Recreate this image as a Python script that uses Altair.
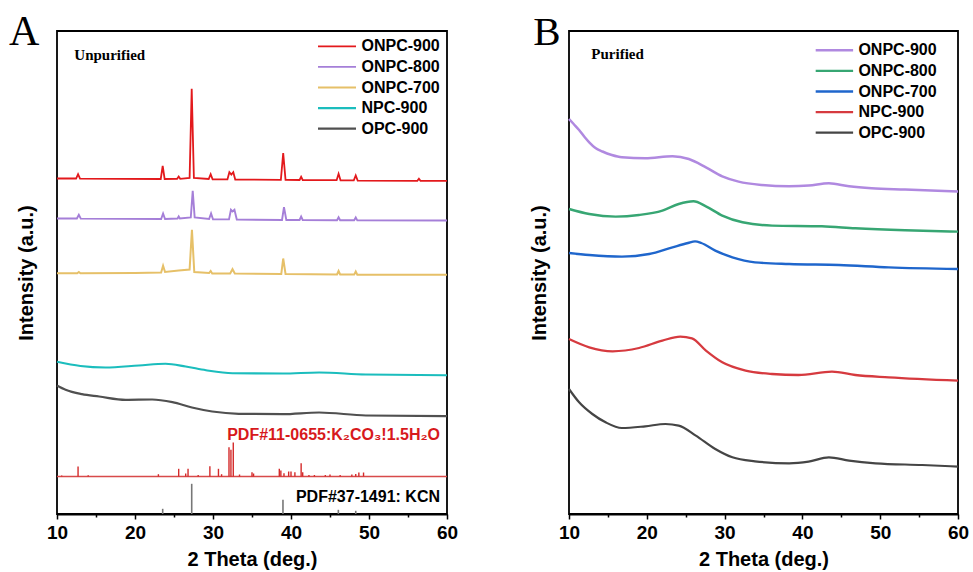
import altair as alt
import pandas as pd

# ---------------- Panel A : unpurified ----------------
A_SERIES = ["ONPC-900", "ONPC-800", "ONPC-700", "NPC-900", "OPC-900"]
A_COLORS = ["#e3191c", "#a57fd8", "#e6c068", "#1bbdbd", "#505050"]
A_WIDTHS = [1.8, 2.2, 1.8, 2.8, 2.2]

a900_theta = [10, 12.45, 12.7, 12.95, 23.3, 23.55, 23.8, 25.4, 25.6, 25.8, 27.0, 27.27, 27.55,
              29.45, 29.7, 29.95, 31.85, 32.1, 32.35, 32.6, 32.85, 38.7, 39.0, 39.3, 41.1, 41.3,
              41.5, 45.85, 46.1, 46.35, 48.05, 48.3, 48.55, 56.2, 56.4, 56.6, 60]
a900_int = [335.5, 335.5, 339.8, 335.4, 335.0, 348.2, 335.0, 335.2, 337.5, 335.2, 336.0, 425.2, 336.0,
            335.0, 339.8, 334.6, 334.6, 341.8, 339.5, 341.8, 334.5, 334.2, 360.8, 334.2, 334.0, 337.2,
            334.0, 333.8, 340.2, 333.7, 333.6, 338.5, 333.4, 333.2, 335.2, 333.2, 333.2]

a800_theta = [10, 12.55, 12.8, 13.05, 23.35, 23.6, 23.85, 25.45, 25.6, 25.75, 27.15, 27.4, 27.65,
              29.5, 29.75, 30.0, 32.05, 32.3, 32.5, 32.75, 33.05, 38.85, 39.1, 39.4, 41.1, 41.3,
              41.5, 45.9, 46.1, 46.3, 48.1, 48.3, 48.5, 60]
a800_int = [295.5, 295.5, 299.2, 295.4, 295.0, 300.5, 295.0, 295.5, 297.5, 295.5, 296.5, 323.2, 296.5,
            295.0, 300.5, 294.6, 294.6, 304.2, 302.5, 304.2, 294.5, 294.0, 306.8, 294.0, 294.0, 297.5,
            294.0, 293.8, 296.8, 293.8, 293.7, 296.5, 293.6, 293.5]

a700_theta = [10, 12.6, 12.8, 13.0, 20.0, 23.35, 23.6, 23.85, 25.6, 27.0, 27.3, 27.6, 29.5, 29.7,
              29.9, 32.2, 32.5, 32.8, 38.75, 39.0, 39.3, 45.9, 46.1, 46.3, 48.1, 48.3, 48.5, 60]
a700_int = [240.8, 240.8, 242.0, 240.8, 241.0, 241.5, 248.2, 242.0, 243.5, 244.5, 284.2, 242.0, 241.0,
            243.0, 240.5, 240.5, 244.8, 240.5, 240.0, 255.5, 240.0, 239.5, 243.0, 239.5, 239.4,
            242.5, 239.3, 239.2]

anpc_theta = [10, 13.0, 16.2, 20.5, 23.9, 26.5, 29.1, 32.5, 38.9, 43.6, 49.6, 60]
anpc_int = [152.2, 148.0, 146.5, 148.5, 150.2, 147.5, 143.8, 140.8, 140.5, 141.5, 139.5, 138.8]

aopc_theta = [10, 11.1, 13.2, 15.4, 18.8, 22.2, 24.8, 27.3, 29.9, 33.3, 38.9, 43.6, 49.6, 60]
aopc_int = [128.5, 124.2, 119.8, 117.5, 114.2, 114.5, 111.8, 106.5, 102.5, 100.2, 99.8, 101.5, 98.5, 97.8]

# reference patterns
k2co3_theta = [10.6, 12.7, 14.0, 23.0, 25.6, 26.5, 26.8, 28.1, 29.6, 30.7, 31.1, 32.05, 32.3, 32.6,
               33.4, 35.0, 35.2, 38.5, 38.7, 39.1, 39.7, 40.0, 40.5, 41.3, 41.5, 42.3, 43.0, 44.4,
               45.0, 46.3, 47.8, 48.3, 48.7, 49.3]
k2co3_top = [38.5, 47.5, 38.8, 39.8, 45.2, 40.5, 45.2, 39.0, 47.8, 45.2, 39.8, 66.8, 64.2, 71.5,
             39.5, 41.8, 40.5, 45.2, 43.5, 40.8, 42.5, 42.5, 41.8, 50.8, 41.8, 39.0, 39.0, 39.0,
             39.5, 39.0, 39.5, 40.0, 41.5, 41.5]
k2co3_base = [37.5]
kcn_theta = [23.55, 27.27, 38.97, 46.07, 48.3]
kcn_top = [5.2, 30.2, 14.2, 4.2, 3.2]
kcn_base = [0.0]

# ---------------- Panel B : purified ----------------
B_SERIES = ["ONPC-900", "ONPC-800", "ONPC-700", "NPC-900", "OPC-900"]
B_COLORS = ["#b089e0", "#37a673", "#1f66cc", "#d63a3f", "#454545"]
B_WIDTHS = [2.5, 2.2, 2.5, 2.0, 2.5]

b900_theta = [10, 10.6, 11.3, 12.0, 12.6, 13.4, 14.3, 15.5, 16.8, 19.8, 23.3, 25.4, 27.6, 29.7, 31.8,
              34.8, 38.3, 40.8, 43.4, 46.0, 48.9, 53.2, 60]
b900_int = [395.0, 390.0, 384.0, 377.0, 371.7, 366.0, 362.5, 359.0, 356.7, 355.7, 357.7, 355.0, 346.7,
            337.7, 332.4, 329.0, 327.7, 328.4, 330.7, 327.7, 325.7, 324.4, 322.4]

b800_theta = [10, 12.6, 16.0, 19.0, 22.0, 24.1, 26.0, 27.6, 29.7, 32.3, 36.1, 42.5, 46.8, 53.2, 60]
b800_int = [305.0, 300.0, 297.4, 299.0, 303.4, 310.0, 312.7, 307.7, 298.4, 291.7, 288.4, 287.7, 285.7,
            283.7, 282.4]

b700_theta = [10, 12.6, 16.8, 20.3, 23.3, 25.3, 26.2, 27.0, 28.8, 31.0, 33.9, 38.3, 44.7, 51.1, 60]
b700_int = [261.0, 259.0, 257.4, 260.0, 266.7, 271.0, 272.6, 271.0, 263.4, 256.7, 251.7, 250.0, 249.0,
            246.7, 245.0]

bnpc_theta = [10, 12.6, 15.6, 19.0, 22.0, 24.3, 25.8, 27.6, 29.7, 32.7, 36.1, 39.5, 43.8, 46.8, 51.1, 60]
bnpc_int = [175.0, 166.7, 162.7, 166.0, 173.4, 177.4, 175.7, 163.4, 151.7, 143.4, 140.0, 139.0, 142.4,
            139.0, 136.7, 133.4]

bopc_theta = [10, 11.3, 13.0, 14.7, 16.8, 19.8, 22.4, 24.1, 26.3, 28.8, 31.0, 33.9, 38.3, 40.8, 43.4,
              46.0, 49.4, 55.4, 60]
bopc_int = [125.0, 111.7, 100.0, 91.7, 86.0, 87.7, 90.0, 88.4, 78.4, 65.0, 56.7, 52.7, 50.7, 52.4,
            56.7, 53.4, 50.7, 49.0, 47.4]

X_TICKS = [10, 15, 20, 25, 30, 35, 40, 45, 50, 55, 60]
SANS = "Liberation Sans"
SERIF = "Liberation Serif"
H = 483
W_A = 390
W_B = 389


def frame(names, thetas, ints):
    rows = []
    for n, t, v in zip(names, thetas, ints):
        for a, b in zip(t, v):
            rows.append({"sample": n, "theta": a, "intensity": b})
    return pd.DataFrame(rows)


def x_enc():
    return alt.X(
        "theta:Q",
        scale=alt.Scale(domain=[10, 60], nice=False, zero=False),
        axis=alt.Axis(
            values=X_TICKS,
            labelExpr="datum.value % 10 === 0 ? datum.label : ''",
            tickSize={"condition": {"test": "datum.value % 10 === 0", "value": 5}, "value": 3},
            tickColor="black", tickWidth=1.5, domainColor="black", domainWidth=2,
            labelFont=SANS, labelFontSize=19, labelFontWeight="bold", labelColor="black",
            labelPadding=4, labelOverlap=False, labelFlush=False,
            titleFont=SANS, titleFontSize=20, titleFontWeight="bold", titleColor="black",
            titlePadding=7, grid=False,
        ),
        title="2 Theta (deg.)",
    )


def y_enc(pad):
    return alt.Y(
        "intensity:Q",
        scale=alt.Scale(domain=[0, H], nice=False, zero=False),
        axis=alt.Axis(
            labels=False, ticks=False, domain=False, grid=False, minExtent=0,
            titleFont=SANS, titleFontSize=20, titleFontWeight="bold", titleColor="black",
            titlePadding=pad,
        ),
        title="Intensity (a.u.)",
    )


def color_enc(series, colors, lx, ly, size):
    return alt.Color(
        "sample:N",
        scale=alt.Scale(domain=series, range=colors),
        legend=alt.Legend(
            orient="none", legendX=lx, legendY=ly, direction="vertical", title=None,
            symbolType="stroke", symbolSize=size, symbolStrokeWidth=2.5, clipHeight=16,
            rowPadding=4.6, labelOffset=4, padding=0,
            labelFont=SANS, labelFontSize=16, labelFontWeight="bold", labelColor="black",
        ),
    )


def width_enc(series, widths):
    return alt.StrokeWidth("sample:N", scale=alt.Scale(domain=series, range=widths), legend=None)


def text_layer(txt, x, y, size, font, weight, color="black", align="left", baseline="middle"):
    return alt.Chart(pd.DataFrame({"t": [txt]})).mark_text(
        align=align, baseline=baseline, font=font, fontSize=size, fontWeight=weight, color=color
    ).encode(text="t:N", x=alt.value(x), y=alt.value(y))


# ----- panel A layers -----
dfA_sharp = frame(A_SERIES[:3], [a900_theta, a800_theta, a700_theta], [a900_int, a800_int, a700_int])
dfA_smooth = frame(A_SERIES[3:], [anpc_theta, aopc_theta], [anpc_int, aopc_int])

YPA = 20.5
cA = color_enc(A_SERIES, A_COLORS, 259.5, 7.3, 1444)
A_sharp = alt.Chart(dfA_sharp).mark_line(interpolate="linear").encode(
    x=x_enc(), y=y_enc(YPA), color=cA, strokeWidth=width_enc(A_SERIES, A_WIDTHS), order="theta:Q")
A_smooth = alt.Chart(dfA_smooth).mark_line(interpolate="monotone").encode(
    x=x_enc(), y=y_enc(YPA), color=cA, strokeWidth=width_enc(A_SERIES, A_WIDTHS), order="theta:Q")

k2_df = pd.DataFrame({"theta": k2co3_theta, "top": k2co3_top, "intensity": k2co3_base * len(k2co3_theta)})
k2_base_df = pd.DataFrame({"intensity": k2co3_base})
kcn_df = pd.DataFrame({"theta": kcn_theta, "top": kcn_top, "intensity": kcn_base * len(kcn_theta)})

k2_sticks = alt.Chart(k2_df).mark_rule(color="#d42a2a", strokeWidth=1.4).encode(
    x=x_enc(), y=y_enc(YPA), y2="top:Q")
k2_line = alt.Chart(k2_base_df).mark_rule(color="#d84a4a", strokeWidth=1.4).encode(y=y_enc(YPA))
kcn_sticks = alt.Chart(kcn_df).mark_rule(color="#777777", strokeWidth=1.6).encode(
    x=x_enc(), y=y_enc(YPA), y2="top:Q")

panelA = alt.layer(
    k2_line, k2_sticks, kcn_sticks, A_smooth, A_sharp,
    text_layer("Unpurified", 17.3, 23.8, 15, SERIF, "bold"),
    text_layer("PDF#11-0655:K₂CO₃!1.5H₂O", 383, 403.6, 16, SANS, "bold", color="#d7191c", align="right"),
    text_layer("PDF#37-1491: KCN", 383, 465.9, 16, SANS, "bold", align="right"),
    text_layer("A", -48, 13.7, 42, SERIF, "normal", baseline="alphabetic"),
).properties(width=W_A, height=H)

# ----- panel B layers -----
dfB = frame(B_SERIES, [b900_theta, b800_theta, b700_theta, bnpc_theta, bopc_theta],
            [b900_int, b800_int, b700_int, bnpc_int, bopc_int])
cB = color_enc(B_SERIES, B_COLORS, 245.4, 11.3, 1400)
B_lines = alt.Chart(dfB).mark_line(interpolate="monotone").encode(
    x=x_enc(), y=y_enc(20), color=cB, strokeWidth=width_enc(B_SERIES, B_WIDTHS), order="theta:Q")

panelB = alt.layer(
    B_lines,
    text_layer("Purified", 22.3, 22.5, 15, SERIF, "bold"),
    text_layer("B", -35.7, 14, 41, SERIF, "normal", baseline="alphabetic"),
).properties(width=W_B, height=H)

chart = alt.hconcat(panelA, panelB, spacing=122, bounds="flush").resolve_scale(
    x="independent", y="independent", color="independent", strokeWidth="independent"
).resolve_legend(color="independent", strokeWidth="independent").properties(
    padding={"left": 8, "top": 9, "right": 0, "bottom": 2},
    background="white",
).configure_view(stroke="black", strokeWidth=1.8)

chart.save("out.html", embed_options={"renderer": "svg", "actions": False})
